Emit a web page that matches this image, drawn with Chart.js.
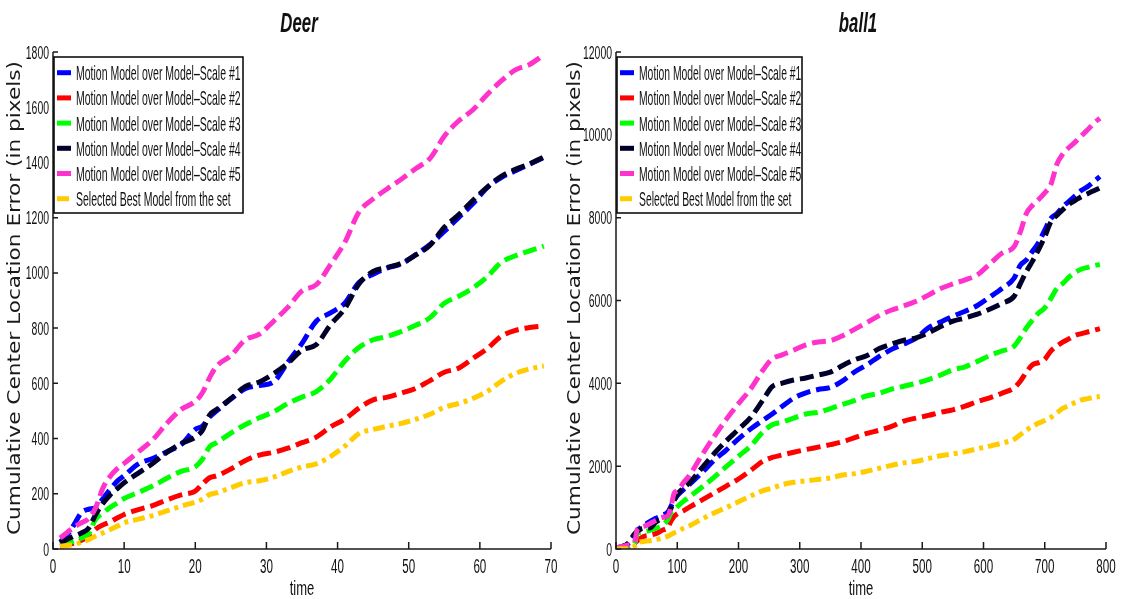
<!DOCTYPE html>
<html>
<head>
<meta charset="utf-8">
<script src="https://cdn.jsdelivr.net/npm/chart.js@4.4.1/dist/chart.umd.min.js"></script>
<style>
  html, body { margin: 0; padding: 0; background: #fff; }
  #wrap { position: relative; width: 1124px; height: 599px; }
  .box { position: absolute; top: 0; height: 599px; }
  #leftBox { left: 0; width: 560px; }
  #rightBox { left: 560px; width: 564px; }
</style>
</head>
<body>
<div id="wrap">
  <div class="box" id="leftBox"><canvas id="deerChart" width="560" height="599"></canvas></div>
  <div class="box" id="rightBox"><canvas id="ballChart" width="564" height="599"></canvas></div>
</div>
<script>
// series names / colours shared by both plots
const seriesLabels = [
  'Motion Model over Model\u2013Scale #1',
  'Motion Model over Model\u2013Scale #2',
  'Motion Model over Model\u2013Scale #3',
  'Motion Model over Model\u2013Scale #4',
  'Motion Model over Model\u2013Scale #5',
  'Selected Best Model from the set'
];
const seriesColors = ['#0000ff', '#ff0000', '#00ff00', '#00002a', '#ff33cc', '#ffcc00'];
const seriesDash = [[14, 6], [14, 6], [14, 6], [14, 6], [14, 6], [12, 5, 4, 5]];

// Deer sequence (frames 1..69)
const deerTime = [1,2,3,4,5,6,7,8,9,10,12,14,16,18,20,21,22,23,25,27,29,31,33,35,37,39,41,43,45,47,49,51,53,55,57,59,61,63,65,67,69];
const deerScale1 = [25,50,90,132,144,150,182,215,245,265, 308,328,352,378,433, 445,478,500,543,580, 592,605,676,745,825, 855,890,965,995,1018, 1033,1066,1103,1150,1200, 1250,1308,1345,1370,1394, 1418];
const deerScale2 = [10,16,22,32,45,72,87,98,112,125, 143,157,178,196,210, 235,258,265,290,320, 340,350,365,385,405, 442,470,510,540,550, 565,582,610,640,655, 690,725,770,792,802, 808];
const deerScale3 = [16,22,28,40,55,108,130,150,166,183, 205,228,256,281,298, 325,370,385,420,450, 475,497,527,550,570, 615,680,730,758,770, 788,810,838,890,915, 945,985,1038,1062,1080, 1097];
const deerScale4 = [22,35,47,58,75,125,165,195,218,240, 275,310,350,382,405, 430,485,505,545,588, 605,635,672,720,740, 812,870,960,1005,1020, 1035,1065,1100,1165,1210, 1262,1310,1350,1375,1395, 1420];
const deerScale5 = [40,60,80,95,110,150,220,262,290,310, 352,395,455,505,535, 566,620,662,700,757, 778,825,875,935,957, 1030,1110,1220,1268,1305, 1340,1378,1415,1495,1550, 1590,1645,1695,1735,1755, 1790];
const deerBest = [10,13,16,25,34,47,58,70,82,95, 108,121,138,155,170, 180,197,203,222,240, 247,260,280,297,308, 335,372,418,433,445, 455,470,488,513,527, 545,570,607,636,652, 663];

// ball1 sequence
const ballTime = [0,10,20,30,35,45,55,65,75,85,90,95,100,110,120,140,160,180,200,220,240,255,270,290,310,330,350,370,390,410,430,450,470,490,510,530,550,570,590,610,630,650,660,670,680,690,700,710,720,730,740,750,760,770,780,790];
const ballScale1 = [30,60,130,305,450, 560,660,740,810,900, 1040,1180,1290,1430,1560, 1840,2140,2390,2660,2900, 3110,3260,3430,3640,3770, 3850,3900,4060,4280,4450, 4650,4820,4950,5090,5340, 5480,5620,5740,5880,6080, 6290,6540,6850,6980,7190, 7400,7700,7980,8100,8270, 8400,8530,8660,8750,8870, 8990];
const ballScale2 = [20,30,50,140,200, 300,330,370,450,530, 680,790,850,920,1010, 1180,1350,1520,1690,1900, 2120,2210,2265,2335,2400, 2460,2520,2590,2690,2790, 2870,2960,3090,3160,3225, 3300,3360,3450,3560,3650, 3760,3890,4050,4270,4450, 4500,4580,4780,4900,5000, 5080,5160,5200,5240,5280, 5320];
const ballScale3 = [20,40,55,120,380, 410,450,500,570,720, 880,950,1020,1150,1260, 1490,1730,1990,2240,2490, 2830,3000,3060,3160,3260, 3300,3390,3490,3590,3700, 3760,3860,3930,4000,4090, 4200,4330,4400,4530,4670, 4780,4900,5100,5340,5530, 5700,5820,6050,6300,6420, 6570,6680,6760,6800,6840, 6870];
const ballScale4 = [30,60,140,360,430, 505,505,650,740,830, 990,1170,1320,1470,1600, 1950,2300,2610,2890,3180, 3600,3920,4000,4080,4130, 4200,4270,4430,4570,4670, 4840,4950,5040,5100,5220, 5370,5500,5580,5670,5790, 5930,6100,6400,6700,6950, 7230,7540,7900,8060,8200, 8330,8420,8510,8580,8650, 8720];
const ballScale5 = [30,60,100,150,480, 545,610,690,760,810, 1030,1350,1400,1600,1780, 2260,2710,3130,3510,3870, 4320,4590,4680,4800,4930, 5000,5030,5150,5310,5470, 5640,5770,5870,5980,6130, 6290,6400,6500,6620,6880, 7140,7300,7650,8100,8300, 8440,8600,8800,9300,9550, 9700,9830,9980,10120,10280, 10400];
const ballBest = [0,5,15,60,150, 180,200,222,260,310, 350,390,420,500,560, 720,870,1000,1140,1280, 1410,1470,1550,1610,1645, 1680,1715,1785,1820,1880, 1950,2020,2080,2115,2185, 2250,2295,2350,2420,2485, 2555,2650,2760,2870,2960, 3040,3100,3180,3290,3400, 3470,3540,3600,3630,3660, 3680];

const yAxisTitle = 'Cumulative Center Location Error (in pixels)';

// draws text squeezed horizontally (narrow matlab-style lettering)
function squeezed(ctx, text, x, y, sx, align) {
  ctx.save();
  ctx.translate(x, y);
  ctx.scale(sx, 1);
  ctx.textAlign = align || 'left';
  ctx.fillText(text, 0, 0);
  ctx.restore();
}

// axes, ticks, labels, titles and the boxed legend
const matlabFrame = {
  id: 'matlabFrame',
  afterDraw(chart, args, o) {
    const ctx = chart.ctx;
    const area = chart.chartArea;
    const xs = chart.scales.x, ys = chart.scales.y;
    ctx.save();

    ctx.strokeStyle = '#1a1a1a';
    ctx.lineWidth = 1.5;
    ctx.setLineDash([]);
    ctx.beginPath();
    ctx.moveTo(area.left, area.top);
    ctx.lineTo(area.left, area.bottom);
    ctx.lineTo(area.right, area.bottom);
    ctx.stroke();

    ctx.beginPath();
    xs.ticks.forEach(t => {
      const px = xs.getPixelForValue(t.value);
      ctx.moveTo(px, area.bottom);
      ctx.lineTo(px, area.bottom - 7);
    });
    ys.ticks.forEach(t => {
      const py = ys.getPixelForValue(t.value);
      ctx.moveTo(area.left, py);
      ctx.lineTo(area.left + 5, py);
    });
    ctx.stroke();

    ctx.fillStyle = '#111';
    ctx.textBaseline = 'alphabetic';
    ctx.font = '20px "Liberation Sans", Arial, sans-serif';
    xs.ticks.forEach(t => {
      squeezed(ctx, t.label, xs.getPixelForValue(t.value), area.bottom + 24, 0.58, 'center');
    });
    ctx.font = '18px "Liberation Sans", Arial, sans-serif';
    ys.ticks.forEach(t => {
      squeezed(ctx, t.label, area.left - 4, ys.getPixelForValue(t.value) + 6.5, 0.58, 'right');
    });

    const midX = (area.left + area.right) / 2;
    ctx.font = '21px "Liberation Sans", Arial, sans-serif';
    squeezed(ctx, 'time', midX, 595, 0.62, 'center');

    ctx.font = 'italic bold 28px "Liberation Sans", Arial, sans-serif';
    squeezed(ctx, o.title, midX - 3, 32, 0.6, 'center');

    // rotated y title, stretched along its length
    ctx.font = '17px "DejaVu Sans", sans-serif';
    ctx.fillStyle = '#1a1a1a';
    const w = ctx.measureText(yAxisTitle).width;
    ctx.save();
    ctx.translate(o.yTitleX, 298);
    ctx.rotate(-Math.PI / 2);
    ctx.scale(474 / w, 1);
    ctx.textAlign = 'center';
    ctx.textBaseline = 'middle';
    ctx.fillText(yAxisTitle, 0, 0);
    ctx.restore();

    // legend box in the upper left corner
    const lx = area.left + 1, ly = area.top + 5;
    ctx.fillStyle = '#fff';
    ctx.fillRect(lx, ly, o.legendWidth, 156);
    ctx.strokeStyle = '#000';
    ctx.lineWidth = 1.5;
    ctx.strokeRect(lx, ly, o.legendWidth, 156);
    chart.data.datasets.forEach((ds, i) => {
      const cy = area.top + 20.7 + i * 25.2;
      ctx.strokeStyle = ds.borderColor;
      ctx.lineWidth = 5;
      ctx.setLineDash(ds.borderDash);
      ctx.beginPath();
      ctx.moveTo(lx + 3, cy);
      ctx.lineTo(lx + 20, cy);
      ctx.stroke();
      ctx.setLineDash([]);
      ctx.fillStyle = '#111';
      ctx.font = '21px "Liberation Sans", Arial, sans-serif';
      squeezed(ctx, ds.label, lx + 22, cy + 7.5, o.legendSqueeze, 'left');
    });

    ctx.restore();
  }
};

function makeDatasets(seriesList, times) {
  return seriesList.map((vals, i) => ({
    label: seriesLabels[i],
    data: times.map((t, k) => ({ x: t, y: vals[k] })),
    borderColor: seriesColors[i],
    borderDash: seriesDash[i],
    borderWidth: 5,
    borderCapStyle: 'butt',
    pointRadius: 0,
    fill: false,
    cubicInterpolationMode: 'monotone',
    order: seriesLabels.length - i
  }));
}

function makeChart(id, times, seriesList, cfg) {
  return new Chart(document.getElementById(id), {
    type: 'line',
    data: { datasets: makeDatasets(seriesList, times) },
    options: {
      responsive: false,
      devicePixelRatio: 1,
      animation: false,
      layout: { padding: { top: 52, right: cfg.padRight, left: 0, bottom: 0 } },
      plugins: {
        legend: { display: false },
        tooltip: { enabled: false },
        matlabFrame: { title: cfg.title, yTitleX: cfg.yTitleX, legendWidth: cfg.legendWidth, legendSqueeze: cfg.legendSqueeze }
      },
      scales: {
        x: {
          type: 'linear', min: 0, max: cfg.xMax,
          ticks: { stepSize: cfg.xStep, display: false, callback: v => String(v) },
          grid: { display: false }, border: { display: false },
          afterFit: s => { s.height = 50; }
        },
        y: {
          type: 'linear', min: 0, max: cfg.yMax,
          ticks: { stepSize: cfg.yStep, display: false, callback: v => String(v) },
          grid: { display: false }, border: { display: false },
          afterFit: s => { s.width = cfg.axisWidth; }
        }
      }
    },
    plugins: [matlabFrame]
  });
}

makeChart('deerChart', deerTime,
  [deerScale1, deerScale2, deerScale3, deerScale4, deerScale5, deerBest],
  { title: 'Deer', xMax: 70, xStep: 10, yMax: 1800, yStep: 200, axisWidth: 53, padRight: 9,
    yTitleX: 16, legendWidth: 189, legendSqueeze: 0.5 });

makeChart('ballChart', ballTime,
  [ballScale1, ballScale2, ballScale3, ballScale4, ballScale5, ballBest],
  { title: 'ball1', xMax: 800, xStep: 100, yMax: 12000, yStep: 2000, axisWidth: 56, padRight: 18,
    yTitleX: 16, legendWidth: 185, legendSqueeze: 0.493 });
</script>
</body>
</html>
